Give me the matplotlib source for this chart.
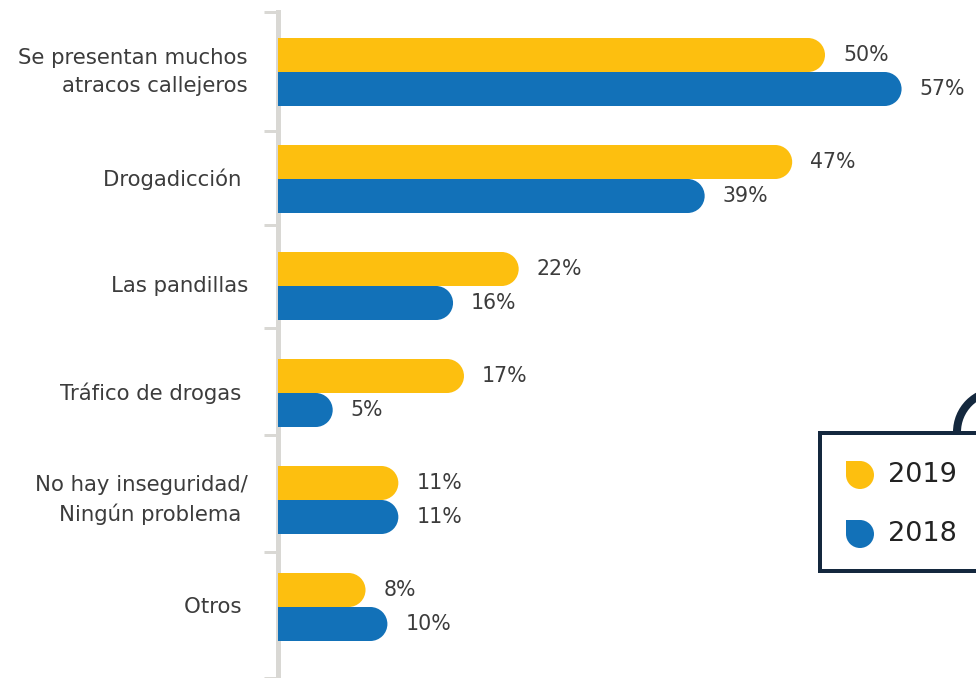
import matplotlib
matplotlib.use("Agg")
import matplotlib.pyplot as plt
from matplotlib.patches import Rectangle, Ellipse, Circle, Arc
import numpy as np

plt.rcParams['font.family'] = ['DejaVu Sans']

categories = ["Se presentan muchos\natracos callejeros", "Drogadicción ", "Las pandillas",
              "Tráfico de drogas ", "No hay inseguridad/\nNingún problema ", "Otros "]
series_names = ["2019", "2018"]
values_2019 = [50, 47, 22, 17, 11, 8]
values_2018 = [57, 39, 16, 5, 11, 10]
colors = ["#FDBF0F", "#1271B8"]
text_color = "#3c3c3c"
navy = "#14283E"
axis_gray = "#D9D8D4"

W, H, DPI = 976, 678, 100
fig = plt.figure(figsize=(W / DPI, H / DPI), dpi=DPI)

px_per_unit_x = 10.94
ax_left_px = 278
ax = fig.add_axes([ax_left_px / W, 0, (W - ax_left_px) / W, 1])
ax.set_xlim(0, (W - ax_left_px) / px_per_unit_x)
px_per_unit_y = 107.0
top_px = 72.0
ax.set_ylim(len(categories) - 1 + (H - top_px - 5 * px_per_unit_y) / px_per_unit_y, -top_px / px_per_unit_y)

bar_h = 34 / px_per_unit_y
r_x = 17 / px_per_unit_x  # cap radius in x data units

def rounded_bar(y, v, color):
    ax.add_patch(Rectangle((0, y - bar_h / 2), v - r_x, bar_h, facecolor=color, edgecolor='none', zorder=3))
    ax.add_patch(Ellipse((v - r_x, y), 2 * r_x, bar_h, facecolor=color, edgecolor='none', zorder=3))

pt = 72 / DPI
for i, (v19, v18) in enumerate(zip(values_2019, values_2018)):
    for v, off, c in [(v19, -bar_h / 2, colors[0]), (v18, bar_h / 2, colors[1])]:
        rounded_bar(i + off, v, c)
        ax.annotate(f"{v}%", (v, i + off), xytext=(18 * pt, 0), textcoords='offset points',
                    ha='left', va='center', fontsize=14.8, color=text_color)
    ax.annotate(categories[i], (0, i), xycoords=('axes fraction', 'data'),
                xytext=(-30 * pt, 0), textcoords='offset points', ha='right', va='center',
                fontsize=15.3, color=text_color, linespacing=1.5, multialignment='right')

# axis styling
for s in ['top', 'right', 'bottom']:
    ax.spines[s].set_visible(False)
ax.spines['left'].set_color(axis_gray)
ax.spines['left'].set_linewidth(5 * pt)
ybot = ax.get_ylim()[0]
bounds = [-0.56, 0.55, 1.43, 2.39, 3.39, 4.49, ybot]
ax.spines['left'].set_bounds(-0.56, ybot)
ax.set_xticks([])
ax.set_yticks(bounds)
ax.set_yticklabels([])
ax.tick_params(axis='y', direction='out', length=14 * pt, width=3 * pt, color=axis_gray)

# overlay for legend
ov = fig.add_axes([0, 0, 1, 1])
ov.set_xlim(0, W)
ov.set_ylim(H, 0)
ov.axis('off')
ov.patch.set_alpha(0)
ov.add_patch(Rectangle((820, 433), 220, 138, facecolor='white', edgecolor=navy, linewidth=4 * pt, zorder=2))
ov.add_patch(Arc((998, 432), 82, 82, theta1=180, theta2=270, color=navy, linewidth=8 * pt, zorder=1))
for j, (name, c) in enumerate(zip(series_names, colors)):
    cy = 475 + 59 * j
    ov.add_patch(Circle((860, cy), 14, facecolor=c, edgecolor='none', zorder=3))
    ov.add_patch(Rectangle((846, cy - 14), 14, 14, facecolor=c, edgecolor='none', zorder=3))
    ov.text(888, cy, name, ha='left', va='center', fontsize=19.5, color='#222222', zorder=3)

fig.savefig("out.png", dpi=DPI)
